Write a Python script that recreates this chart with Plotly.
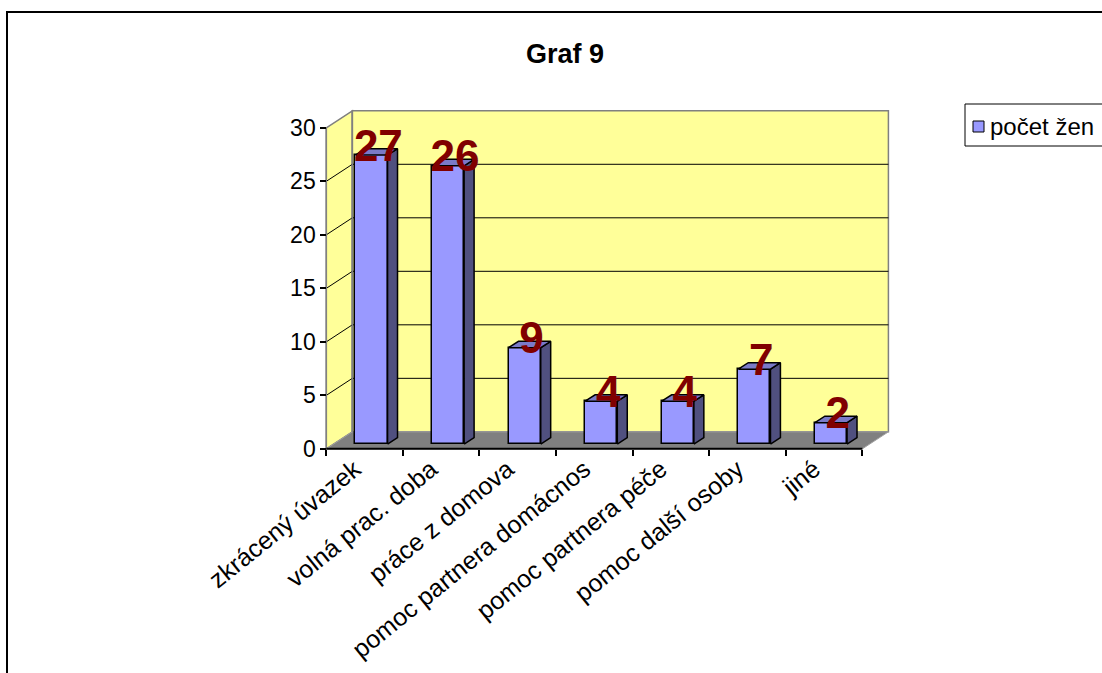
import plotly.graph_objects as go

# ---------------- data ----------------
categories = ["zkrácený úvazek", "volná prac. doba", "práce z domova",
              "pomoc partnera domácnos", "pomoc partnera péče",
              "pomoc další osoby", "jiné"]
values = [27, 26, 9, 4, 4, 7, 2]
series_name = "počet žen"
y_ticks = [0, 5, 10, 15, 20, 25, 30]
title_text = "Graf 9"

# ---------------- styling / geometry ----------------
W, H = 1102, 673
ML, MR, MT, MB = 324, 209, 108, 222
XR = [-0.53, 6.90]
YR = [-0.2, 31.85]
DX, DY = 0.34, 1.59          # wall depth offset (data units)
BX, BW, BASE = 0.09, 0.42, 0.45   # bar shift, width, base
SDX, SDY = 0.13, 0.60        # bar depth

BAR = "#9999FF"
SIDE = "#50507F"
TOP = "#7A7AC8"
WALL = "#FFFF99"
FLOOR = "#808080"
LBL = "#800000"
FONT = "Liberation Sans, Arial, sans-serif"

pw = W - ML - MR
ph = H - MT - MB


def px2paper_x(px):
    return (px - ML) / pw


def px2paper_y(py):
    return (H - MB - py) / ph


n = len(categories)
x0, x1 = -0.5, n - 0.5
ymax = y_ticks[-1]

fig = go.Figure()

shapes = []
# left wall
shapes.append(dict(type="path", xref="x", yref="y", layer="below",
                   path=f"M {x0},0 L {x0},{ymax} L {x0+DX},{ymax+DY} L {x0+DX},{DY} Z",
                   fillcolor=WALL, line=dict(color="#808080", width=1.5)))
# back wall
shapes.append(dict(type="rect", xref="x", yref="y", layer="below",
                   x0=x0 + DX, x1=x1 + DX, y0=DY, y1=ymax + DY,
                   fillcolor=WALL, line=dict(color="#808080", width=1.5)))
# gridlines on back wall and left wall
for v in y_ticks[1:-1]:
    shapes.append(dict(type="line", xref="x", yref="y", layer="below",
                       x0=x0 + DX, x1=x1 + DX, y0=v + DY, y1=v + DY,
                       line=dict(color="black", width=1)))
    shapes.append(dict(type="line", xref="x", yref="y", layer="below",
                       x0=x0, x1=x0 + DX, y0=v, y1=v + DY,
                       line=dict(color="black", width=1)))
# floor
shapes.append(dict(type="path", xref="x", yref="y", layer="below",
                   path=f"M {x0},0 L {x1},0 L {x1+DX},{DY} L {x0+DX},{DY} Z",
                   fillcolor=FLOOR, line=dict(color="#A0A0A0", width=1)))
# wall edge redraw
shapes.append(dict(type="line", xref="x", yref="y", layer="below",
                   x0=x0 + DX, x1=x0 + DX, y0=DY, y1=ymax + DY,
                   line=dict(color="#808080", width=1.5)))
# y axis line
shapes.append(dict(type="line", xref="x", yref="y", layer="below",
                   x0=x0, x1=x0, y0=0, y1=ymax,
                   line=dict(color="#808080", width=1.5)))
# front x axis line
shapes.append(dict(type="line", xref="x", yref="y", layer="below",
                   x0=x0, x1=x1, y0=0, y1=0,
                   line=dict(color="black", width=2)))

# outer frame
shapes.append(dict(type="rect", xref="paper", yref="paper",
                   x0=px2paper_x(7), x1=px2paper_x(1120),
                   y0=px2paper_y(700), y1=px2paper_y(12),
                   line=dict(color="black", width=2), fillcolor="rgba(0,0,0,0)"))
# legend box
shapes.append(dict(type="rect", xref="paper", yref="paper",
                   x0=px2paper_x(965), x1=px2paper_x(1130),
                   y0=px2paper_y(146), y1=px2paper_y(104),
                   line=dict(color="black", width=1), fillcolor="white"))
shapes.append(dict(type="rect", xref="paper", yref="paper",
                   x0=px2paper_x(973), x1=px2paper_x(984),
                   y0=px2paper_y(132), y1=px2paper_y(121),
                   line=dict(color="black", width=1), fillcolor=BAR))

# ---------------- bars ----------------
bx = [i + BX for i in range(n)]
fig.add_trace(go.Bar(x=bx, y=values, base=[BASE] * n, width=BW,
                     marker=dict(color=BAR, line=dict(color="black", width=1.5)),
                     name=series_name, showlegend=False, hoverinfo="skip"))

for xi, v in zip(bx, values):
    xl, xr = xi - BW / 2, xi + BW / 2
    top = BASE + v
    # side face
    fig.add_trace(go.Scatter(
        x=[xr, xr + SDX, xr + SDX, xr, xr],
        y=[BASE, BASE + SDY, top + SDY, top, BASE],
        mode="lines", fill="toself", fillcolor=SIDE,
        line=dict(color="black", width=1.5), showlegend=False, hoverinfo="skip"))
    # top face
    fig.add_trace(go.Scatter(
        x=[xl, xr, xr + SDX, xl + SDX, xl],
        y=[top, top, top + SDY, top + SDY, top],
        mode="lines", fill="toself", fillcolor=TOP,
        line=dict(color="black", width=1.5), showlegend=False, hoverinfo="skip"))

# data labels
fig.add_trace(go.Scatter(
    x=[xi + 0.09 for xi in bx], y=[BASE + v + 0.5 for v in values],
    mode="text", text=[str(v) for v in values], textposition="middle center",
    textfont=dict(family=FONT, size=44, color=LBL, weight="bold"),
    showlegend=False, hoverinfo="skip", cliponaxis=False))

annotations = [
    dict(xref="paper", yref="paper", x=px2paper_x(988), y=px2paper_y(126),
         xanchor="left", yanchor="middle", showarrow=False, text=series_name,
         font=dict(family=FONT, size=24, color="black")),
]

fig.update_layout(
    width=W, height=H,
    margin=dict(l=ML, r=MR, t=MT, b=MB, autoexpand=False),
    paper_bgcolor="white", plot_bgcolor="rgba(0,0,0,0)",
    title=dict(text=f"<b>{title_text}</b>", x=565 / W, xref="container",
               y=1 - 54 / H, yref="container", xanchor="center", yanchor="middle",
               font=dict(family=FONT, size=27, color="black")),
    shapes=shapes, annotations=annotations, showlegend=False,
    xaxis=dict(range=XR, showgrid=False, zeroline=False, showline=False,
               tickmode="array", tickvals=list(range(n)), ticktext=categories,
               tickangle=-39, ticks="", ticklabelshift=-10,
               tickfont=dict(family=FONT, size=25, color="black"),
               anchor="free", position=0.2 / (YR[1] - YR[0]),
               minor=dict(tickmode="array", tickvals=[i - 0.5 for i in range(n + 1)],
                          ticks="outside", ticklen=6, tickcolor="black", tickwidth=1.5,
                          showgrid=False)),
    yaxis=dict(range=YR, showgrid=False, zeroline=False, showline=False,
               tickmode="array", tickvals=y_ticks, ticks="outside", ticklen=6,
               tickcolor="black", tickwidth=1.5,
               tickfont=dict(family=FONT, size=23, color="black"),
               anchor="free", position=0.03 / (XR[1] - XR[0])),
    bargap=0,
)

fig.write_html("out.html")
